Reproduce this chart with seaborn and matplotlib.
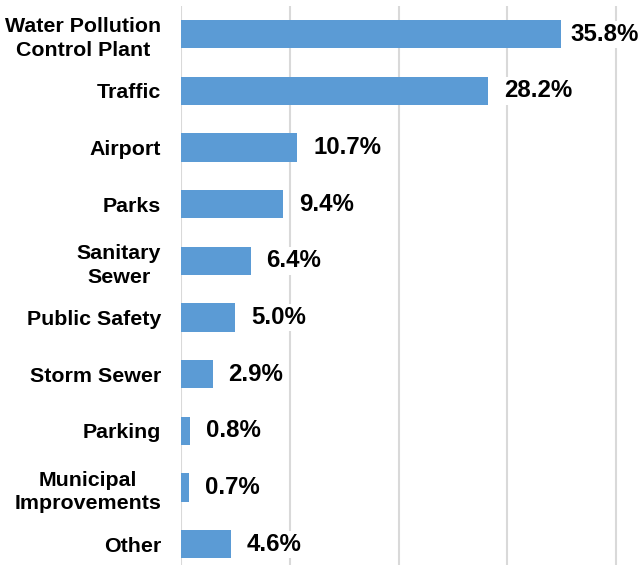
import matplotlib
matplotlib.use("Agg")
import matplotlib.pyplot as plt
import seaborn as sns
import pandas as pd

categories = ["Water Pollution\nControl Plant", "Traffic", "Airport", "Parks",
              "Sanitary\nSewer", "Public Safety", "Storm Sewer", "Parking",
              "Municipal\nImprovements", "Other"]
# bar lengths as drawn in the picture (percent)
values = [34.9, 28.2, 10.7, 9.4, 6.4, 5.0, 2.9, 0.8, 0.7, 4.6]
labels = ["35.8%", "28.2%", "10.7%", "9.4%", "6.4%", "5.0%", "2.9%", "0.8%", "0.7%", "4.6%"]
grid_ticks = [0, 10, 20, 30, 40]

sns.set_style("white")
plt.rcParams["font.family"] = ["Liberation Sans", "DejaVu Sans"]
plt.rcParams["font.weight"] = "bold"
plt.rcParams["text.color"] = "black"

df = pd.DataFrame({"category": categories, "value": values})

W, H = 638, 565
fig = plt.figure(figsize=(W / 100, H / 100), dpi=100)
ppu = 10.875  # pixels per unit
x0 = 181
xmax = 41
ax = fig.add_axes([x0 / W, -0.0133, xmax * ppu / W, 1.0029])

sns.barplot(data=df, x="value", y="category", orient="h", color="#5B9BD5",
            saturation=1, width=0.5, ax=ax, zorder=2, linewidth=0)

ax.set_xlim(0, xmax)
ax.set_ylim(9.5, -0.5)
ax.set_xticks(grid_ticks)
ax.set_xticklabels([])
ax.xaxis.grid(True, color="#d9d9d9", linewidth=1.5)
ax.yaxis.grid(False)
ax.set_axisbelow(True)
for s in ax.spines.values():
    s.set_visible(False)
ax.set_xlabel("")
ax.set_ylabel("")
ax.tick_params(axis="x", length=0)
ax.tick_params(axis="y", length=0, pad=14.4, labelsize=15.4, labelcolor="black")
for lbl in ax.get_yticklabels():
    lbl.set_multialignment("center")
    lbl.set_fontweight("bold")
    lbl.set_linespacing(1.32)
    lbl.set_color("black")

for i, (v, t) in enumerate(zip(values, labels)):
    pad = 7.2 if i == 0 else 11.5
    ax.annotate(t, xy=(v, i), xytext=(pad, 0), textcoords="offset points",
                ha="left", va="center", fontsize=17.3, fontweight="bold",
                color="black", zorder=3,
                bbox=dict(facecolor="white", edgecolor="none", pad=1.5))

fig.savefig("out.png", dpi=100)
